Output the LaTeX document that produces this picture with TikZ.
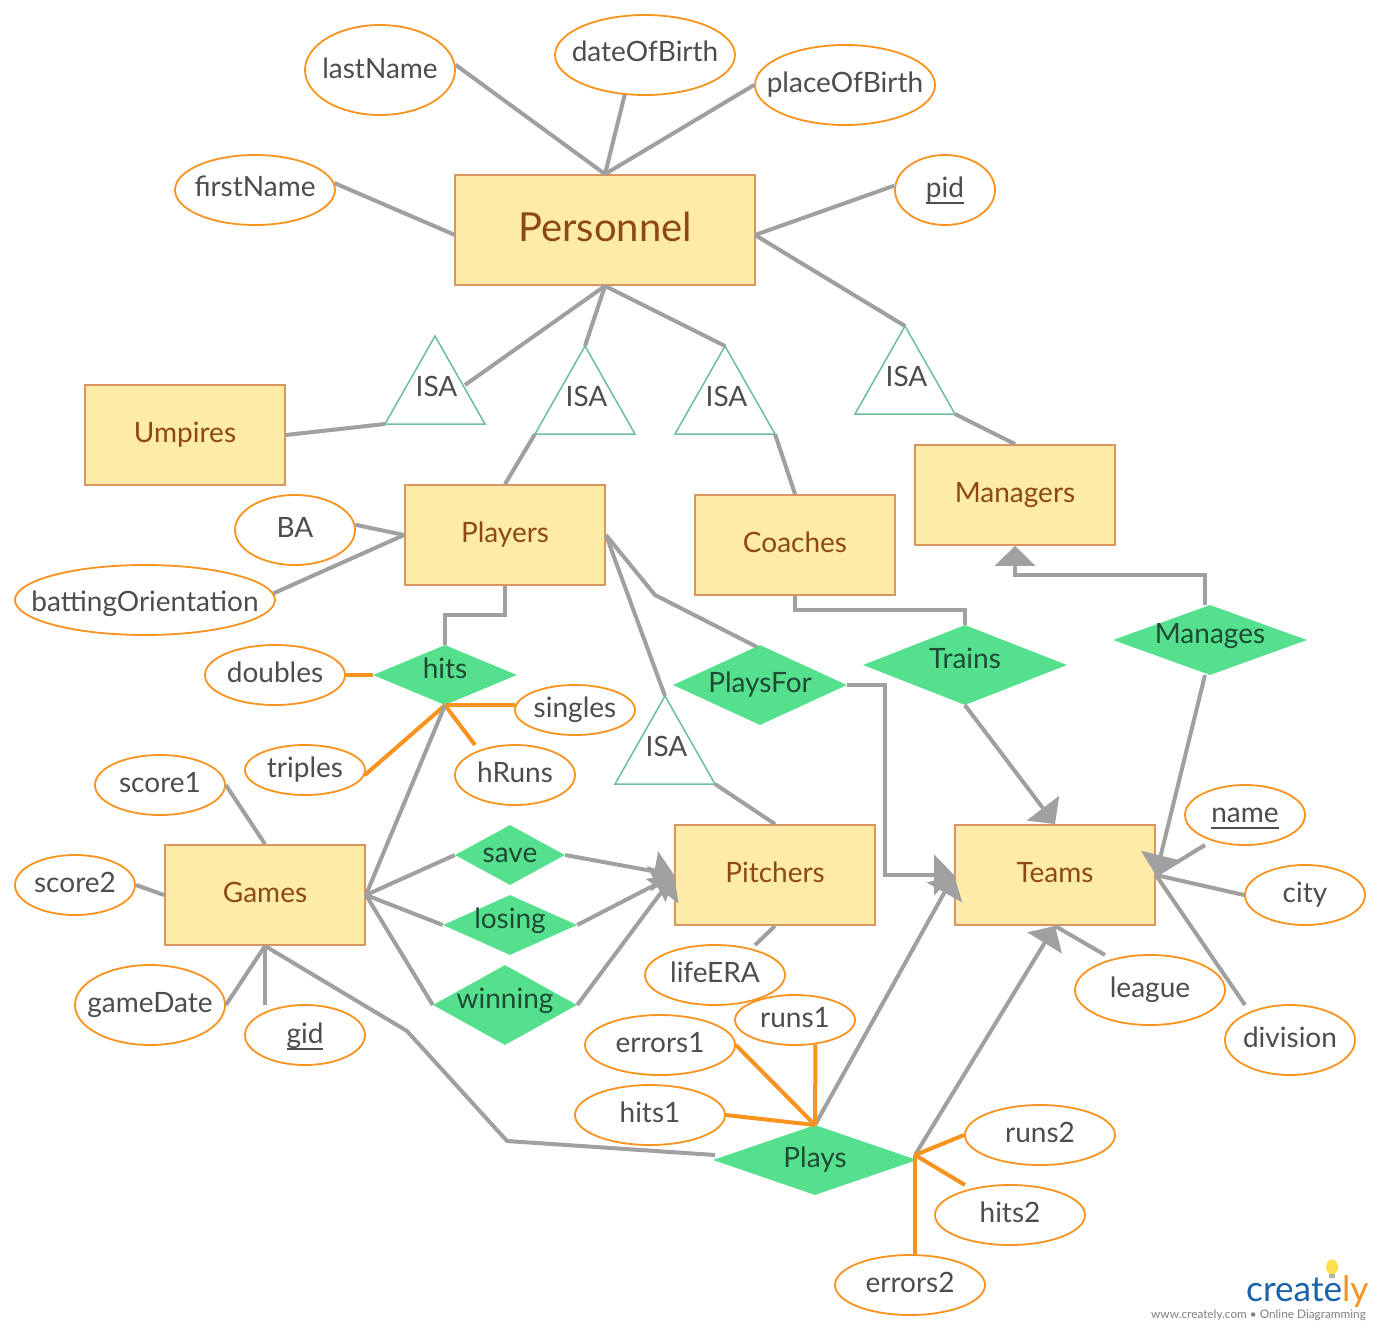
\documentclass[tikz,border=0pt]{standalone}
\usepackage{fontspec}
\setmainfont{Lato}
\usetikzlibrary{shapes.geometric,arrows.meta}
\definecolor{edgegray}{HTML}{A0A0A0}
\definecolor{attrorange}{HTML}{F7931E}
\definecolor{entfill}{HTML}{FFEBA8}
\definecolor{entline}{HTML}{D9975F}
\definecolor{entdark}{HTML}{8C4A12}
\definecolor{relgreen}{HTML}{55E08E}
\definecolor{txtgray}{HTML}{4D4D4D}
\definecolor{reltxt}{HTML}{1F4A33}
\definecolor{isaline}{HTML}{6DBE9D}
\newcommand{\fs}[1]{\fontsize{#1}{#1}\selectfont}
\newcommand{\ulk}[1]{\setbox0=\hbox{#1}\rlap{\rule[-6.5pt]{\wd0}{1.6pt}}\box0}
\tikzset{
 x=1pt,y=-1pt,
 entity/.style={draw=entline,fill=entfill,line width=1.8pt,rectangle,inner sep=0,
   minimum width=200pt,minimum height=100pt,text=entdark,font=\fs{28},text height=20pt,text depth=6pt},
 attr/.style={draw=attrorange,fill=white,line width=1.8pt,ellipse,inner sep=0},
 attrtext/.style={text=txtgray,font=\fs{28},inner sep=0,text height=20pt,text depth=6pt},
 rel/.style={fill=relgreen,diamond,inner sep=0,draw=none},
 reltext/.style={text=reltxt,font=\fs{28},inner sep=0,text height=20pt,text depth=6pt},
 isatri/.style={draw=isaline,line width=1.5pt,fill=white,line join=miter},
 isatext/.style={text=txtgray,font=\fs{28},inner sep=0,text height=20pt,text depth=6pt},
 link/.style={draw=edgegray,line width=4pt},
 ol/.style={draw=attrorange,line width=4pt},
 arr/.style={link,-{Triangle[length=20pt,width=40pt]}},
}
\newcommand{\attrnode}[7][0]{\node[attr,minimum width=#5*2pt,minimum height=#6*2pt,label={[attrtext,yshift=#1pt]center:#7}] (#2) at (#3,#4) {};}
\newcommand{\relnode}[7]{\node[rel,minimum width=#4pt,minimum height=#5pt,label={[reltext,yshift=#7pt]center:#6}] (#1) at (#2,#3) {};}
\newcommand{\isanode}[3]{%
 \coordinate (#1top) at (#2,#3);
 \coordinate (#1l) at ({#2-50},{#3+88});
 \coordinate (#1r) at ({#2+50},{#3+88});
 \path[isatri] (#1top) -- (#1l) -- (#1r) -- cycle;
 \node[isatext] (#1) at ({#2+1.5},{#3+53}) {ISA};}
\begin{document}
\begin{tikzpicture}
\useasboundingbox (0,0) rectangle (1380,1330);
\fill[white] (0,0) rectangle (1380,1330);
% entities
\node[entity,minimum width=300pt,minimum height=110pt,font=\fs{40},text height=28pt,text depth=6pt] (personnel) at (605,230) {Personnel};
\node[entity] (umpires) at (185,435) {Umpires};
\node[entity] (players) at (505,535) {Players};
\node[entity] (coaches) at (795,545) {Coaches};
\node[entity] (managers) at (1015,495) {Managers};
\node[entity] (games) at (265,895) {Games};
\node[entity] (pitchers) at (775,875) {Pitchers};
\node[entity] (teams) at (1055,875) {Teams};
% relationships
\relnode{hits}{445}{675}{144}{60}{hits}{4}
\relnode{playsfor}{760}{685}{174}{80}{PlaysFor}{0}
\relnode{trains}{965}{665}{204}{80}{Trains}{4}
\relnode{manages}{1210}{640}{194}{70}{Manages}{4}
\relnode{save}{510}{855}{110}{60}{save}{0}
\relnode{losing}{510}{925}{134}{60}{losing}{4}
\relnode{winning}{505}{1005}{144}{80}{winning}{4}
\relnode{plays}{815}{1160}{204}{70}{Plays}{0}
% ISA triangles
\isanode{isaa}{435}{336}
\isanode{isab}{585}{346}
\isanode{isac}{725}{346}
\isanode{isad}{905}{326}
\isanode{isae}{665}{696}
% attributes
\attrnode[-1]{lastName}{380}{70}{75}{45}{lastName}
\attrnode{dateOfBirth}{645}{55}{90}{40}{dateOfBirth}
\attrnode{placeOfBirth}{845}{85}{90}{40}{placeOfBirth}
\attrnode[1]{firstName}{255}{190}{80}{35}{firstName}
\attrnode{pid}{945}{190}{50}{35}{\ulk{pid}}
\attrnode{BA}{295}{530}{60}{35}{BA}
\attrnode[-4]{batting}{145}{600}{130}{35}{battingOrientation}
\attrnode{doubles}{275}{675}{70}{30}{doubles}
\attrnode{singles}{575}{710}{60}{25}{singles}
\attrnode{triples}{305}{770}{60}{25}{triples}
\attrnode{hRuns}{515}{775}{60}{30}{hRuns}
\attrnode{scoreone}{160}{785}{65}{30}{score1}
\attrnode{scoretwo}{75}{885}{60}{30}{score2}
\attrnode{gameDate}{150}{1005}{75}{40}{gameDate}
\attrnode[-1]{gid}{305}{1035}{60}{30}{\ulk{gid}}
\attrnode{lifeERA}{715}{975}{70}{30}{lifeERA}
\attrnode{errorsone}{660}{1045}{75}{30}{errors1}
\attrnode{runsone}{795}{1020}{60}{25}{runs1}
\attrnode{hitsone}{650}{1115}{75}{30}{hits1}
\attrnode{runstwo}{1040}{1135}{75}{30}{runs2}
\attrnode{hitstwo}{1010}{1215}{75}{30}{hits2}
\attrnode{errorstwo}{910}{1285}{75}{30}{errors2}
\attrnode{name}{1245}{815}{60}{30}{\ulk{name}}
\attrnode{city}{1305}{895}{60}{30}{city}
\attrnode{league}{1150}{990}{75}{35}{league}
\attrnode{division}{1290}{1040}{65}{35}{division}
% named free ends
\coordinate (hRunsEnd) at (475,745);
\coordinate (singlesEnd) at (515,705);
\coordinate (gidEnd) at (265,1005);
\coordinate (nameEnd) at (1205,845);
\coordinate (leagueEnd) at (1105,955);
\coordinate (divisionEnd) at (1245,1005);
\coordinate (lifeEnd) at (755,945);
\coordinate (hitstwoEnd) at (965,1185);
\coordinate (errorstwoEnd) at (915,1255);
\coordinate (playsE) at (915,1155);
\coordinate (playsW) at (715,1155);
\coordinate (playsN) at (815,1125);
\coordinate (mgTop) at (1205,605);
\coordinate (mgBot) at (1205,675);
\coordinate (pfIn) at (757,647);
\coordinate (isaaside) at (465,385);
\coordinate (persE) at (755,235);
\coordinate (persW) at (455,235);
% personnel attributes
\draw[link] (lastName.4) -- (personnel.north);
\draw[link] (dateOfBirth.243) -- (personnel.north);
\draw[link] (placeOfBirth.west) -- (personnel.north);
\draw[link] (firstName.5) -- (persW);
\draw[link] (pid.175) -- (persE);
% ISA links
\draw[link] (persE) -- (isadtop);
\draw[link] (isadr) -- (managers.north);
\draw[link] (personnel.south) -- (isaaside);
\draw[link] (isaal) -- (umpires.east);
\draw[link] (personnel.south) -- (isabtop);
\draw[link] (isabl) -- (players.north);
\draw[link] (personnel.south) -- (isactop);
\draw[link] (isacr) -- (coaches.north);
\draw[link] (players.east) -- (isaetop);
\draw[link] (isaer) -- (pitchers.north);
% players
\draw[link] (BA.5) -- (players.west);
\draw[link] (batting.3) -- (players.west);
\draw[link] (players.south) -- (505,615) -- (445,615) -- (hits.north);
\draw[link] (players.east) -- (655,595) -- (pfIn);
% hits
\draw[ol] (doubles.east) -- (hits.west);
\draw[ol] (hits.south) -- (singlesEnd);
\draw[ol] (hits.south) -- (hRunsEnd);
\draw[ol] (hits.south) -- (triples.355);
\draw[link] (hits.south) -- (games.east);
% games
\draw[link] (games.east) -- (save.west);
\draw[link] (games.east) -- (losing.west);
\draw[link] (games.east) -- (winning.west);
\draw[link] (scoreone.east) -- (games.north);
\draw[link] (scoretwo.east) -- (games.west);
\draw[link] (gameDate.east) -- (games.south);
\draw[link] (gidEnd) -- (games.south);
\draw[link] (games.south) -- (407,1031) -- (507,1141) -- (playsW);
% pitchers
\draw[arr] (save.east) -- (pitchers.west);
\draw[arr] (losing.east) -- (pitchers.west);
\draw[arr] (winning.east) -- (pitchers.west);
\draw[link] (pitchers.south) -- (lifeEnd);
% teams
\draw[arr] (playsfor.east) -- (885,685) -- (885,875) -- (teams.west);
\draw[arr] (playsN) -- (teams.west);
\draw[arr] (trains.south) -- (teams.north);
\draw[arr] (playsE) -- (teams.south);
\draw[arr] (mgBot) -- (teams.east);
\draw[link] (coaches.south) -- (795,610) -- (965,610) -- (trains.north);
\draw[arr] (mgTop) -- (1205,575) -- (1015,575) -- (managers.south);
\draw[link] (nameEnd) -- (teams.east);
\draw[link] (city.west) -- (teams.east);
\draw[link] (divisionEnd) -- (teams.east);
\draw[link] (leagueEnd) -- (teams.south);
% plays
\draw[ol] (errorsone.east) -- (playsN);
\draw[ol] (runsone.310) -- (playsN);
\draw[ol] (hitsone.east) -- (playsN);
\draw[ol] (runstwo.west) -- (playsE);
\draw[ol] (hitstwoEnd) -- (playsE);
\draw[ol] (errorstwoEnd) -- (playsE);
% logo
\fill[yellow!70!orange!70] (1332,1267) ellipse [x radius=6, y radius=7.5];
\fill[gray!60] (1329,1274) rectangle (1335,1278);
\node[anchor=base west,inner sep=0,font=\fs{35.2}] (logo) at (1246,1301) {\textcolor[HTML]{1B62A8}{create}\textcolor[HTML]{F7931E}{ly}};
\node[anchor=base east,inner sep=0,font=\fs{11.8},text=gray] (logotxt) at (1366,1318) {www.creately.com • Online Diagramming};
\end{tikzpicture}
\end{document}
